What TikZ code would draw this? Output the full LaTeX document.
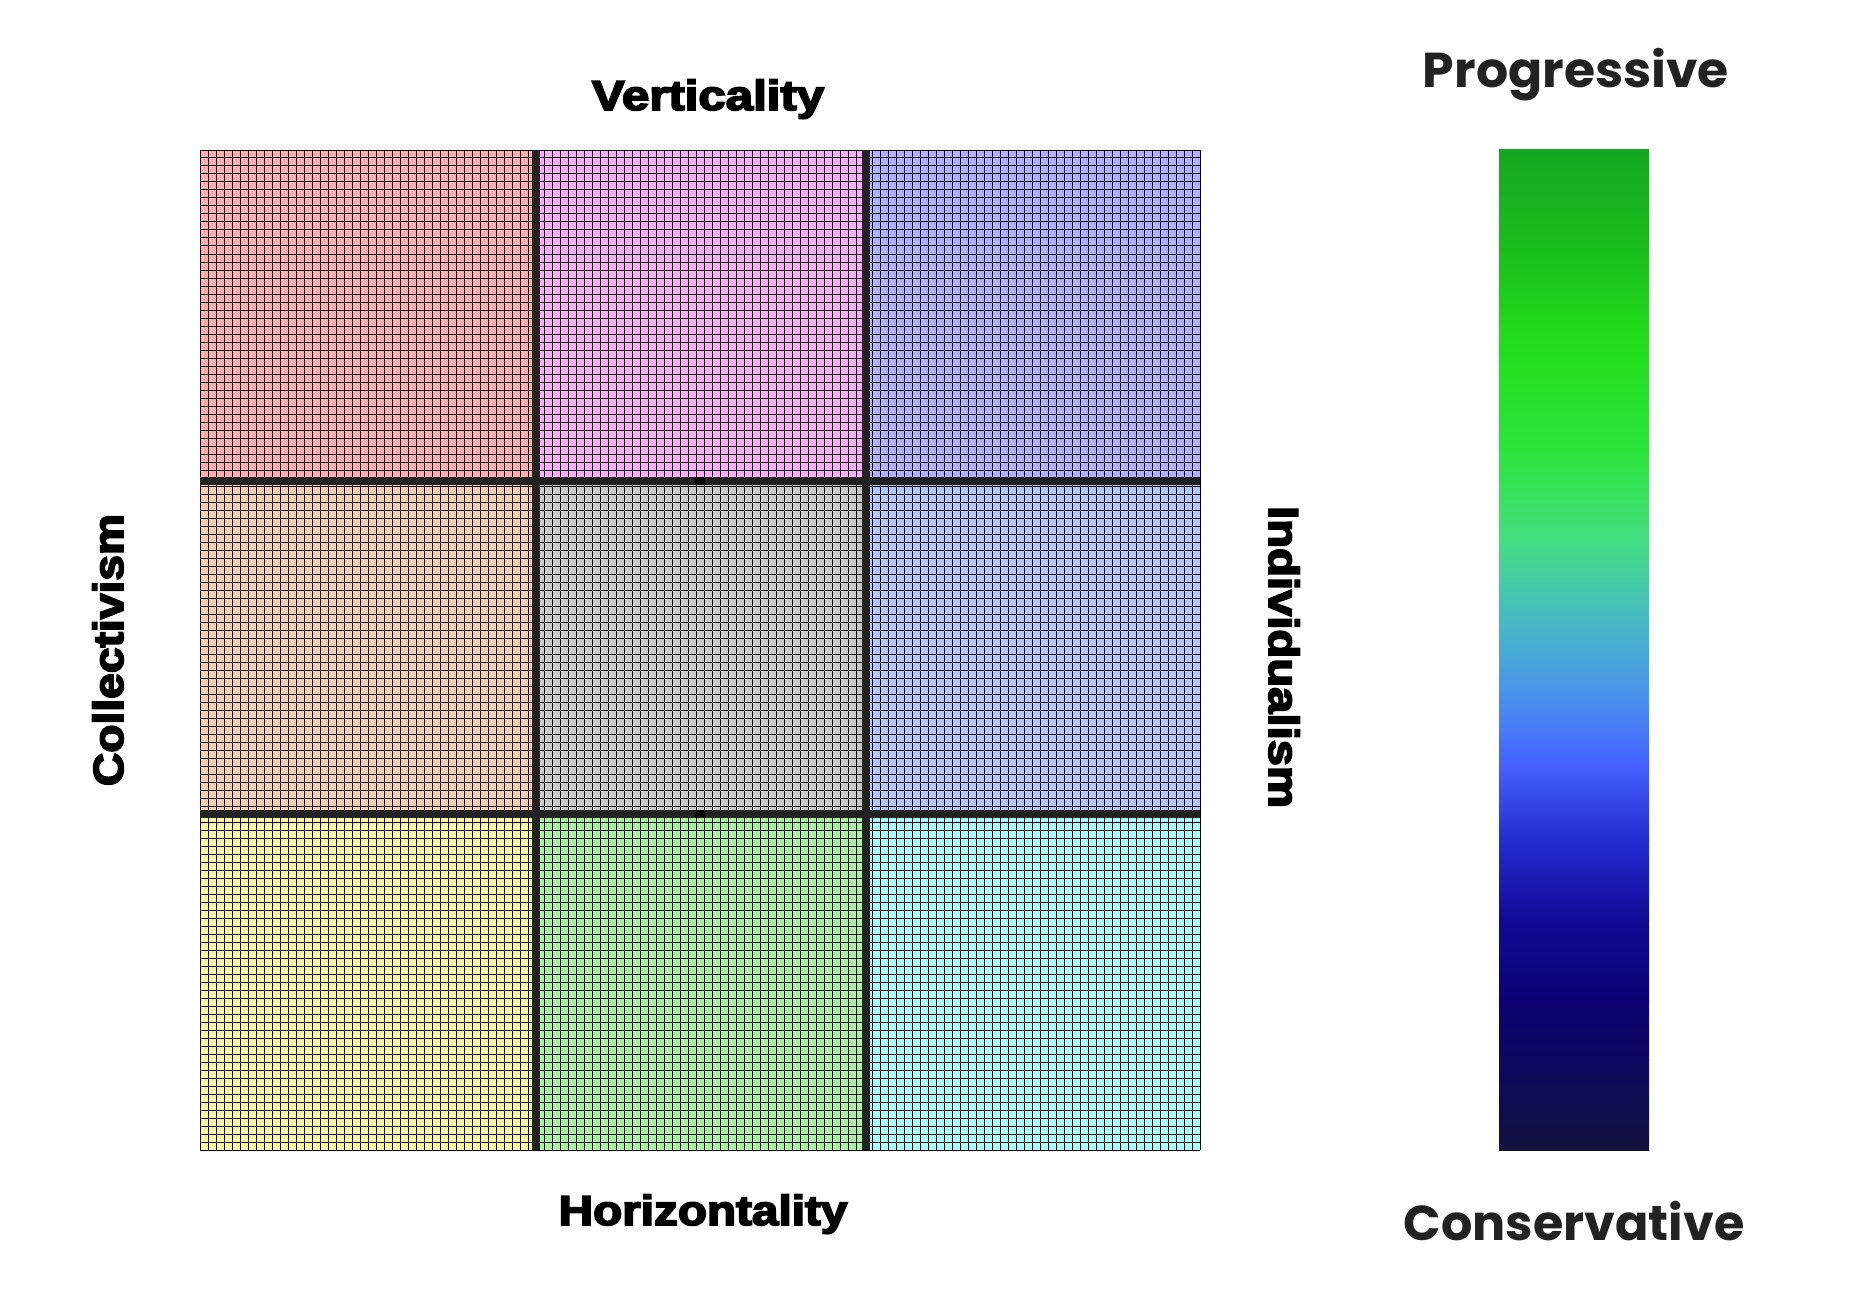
\documentclass[tikz,border=0pt]{standalone}
\usepackage{fontspec}
\newfontfamily\heavy{Liberation Sans}[BoldFeatures={FakeBold=4}]
\newfontfamily\pop{Poppins}
\definecolor{cTL}{HTML}{FFAEAE}
\definecolor{cTM}{HTML}{FFAEFF}
\definecolor{cTR}{HTML}{B0B0FF}
\definecolor{cML}{HTML}{FFCDAF}
\definecolor{cMM}{HTML}{CBCBCB}
\definecolor{cMR}{HTML}{B0C6FF}
\definecolor{cBL}{HTML}{FFFAA0}
\definecolor{cBM}{HTML}{A8F4A0}
\definecolor{cBR}{HTML}{AAFFFF}
\definecolor{sep}{HTML}{222222}
\definecolor{txt}{HTML}{222222}
\definecolor{g1}{RGB}{22,168,32}
\definecolor{g2}{RGB}{26,190,28}
\definecolor{g3}{RGB}{34,221,26}
\definecolor{g4}{RGB}{45,228,60}
\definecolor{g5}{RGB}{68,222,130}
\definecolor{g6}{RGB}{70,190,190}
\definecolor{g7}{RGB}{74,150,235}
\definecolor{g8}{RGB}{70,100,255}
\definecolor{g9}{RGB}{36,44,210}
\definecolor{g10}{RGB}{16,10,150}
\definecolor{g11}{RGB}{12,2,115}
\definecolor{g12}{RGB}{14,8,95}
\definecolor{g13}{RGB}{16,18,62}
\tikzset{
  axislabel/.style={font=\heavy\bfseries\fontsize{42}{42}\selectfont, text=black, inner sep=0pt, anchor=base},
  scalelabel/.style={font=\pop\bfseries\fontsize{49}{49}\selectfont, text=txt, inner sep=0pt, anchor=base},
  sepline/.style={fill=sep, draw=none}
}
\begin{document}
\begin{tikzpicture}[x=1pt,y=1pt]
\useasboundingbox (0,0) rectangle (1850,-1300);
\fill[white] (0,0) rectangle (1850,-1300);
% cells
\fill[cTL] (200,-150) rectangle (536,-481);
\fill[cTM] (536,-150) rectangle (866,-481);
\fill[cTR] (866,-150) rectangle (1200,-481);
\fill[cML] (200,-481) rectangle (536,-814);
\fill[cMM] (536,-481) rectangle (866,-814);
\fill[cMR] (866,-481) rectangle (1200,-814);
\fill[cBL] (200,-814) rectangle (536,-1150);
\fill[cBM] (536,-814) rectangle (866,-1150);
\fill[cBR] (866,-814) rectangle (1200,-1150);
% fine grid
\begin{scope}[shift={(200,-1150)}]
\draw[black, line width=1pt, step=8] (0,0) grid (1000,1000);
\end{scope}
% separators
\fill[sepline] (532,-150) rectangle (540,-1150);
\fill[sepline] (862,-150) rectangle (870,-1150);
\fill[sepline] (200,-477) rectangle (1200,-485);
\fill[sepline] (200,-810) rectangle (1200,-818);
\fill[black] (695,-477) rectangle (705,-485);
\fill[black] (695,-810) rectangle (705,-818);
% axis labels
\node[axislabel] (vert) at (708,-110) {\scalebox{1.17}[1]{Verticality}};
\node[axislabel] (horiz) at (703,-1225) {\scalebox{1.135}[1]{Horizontality}};
\node[axislabel, rotate=90] (coll) at (123,-650) {\scalebox{1.10}[1]{Collectivism}};
\node[axislabel, rotate=-90] (indiv) at (1269,-657) {\scalebox{1.125}[1]{Individualism}};
% gradient bar
\shade[top color=g1,bottom color=g2] (1499,-150) rectangle (1649,-250.5);
\shade[top color=g2,bottom color=g3] (1499,-250) rectangle (1649,-340.5);
\shade[top color=g3,bottom color=g4] (1499,-340) rectangle (1649,-450.5);
\shade[top color=g4,bottom color=g5] (1499,-450) rectangle (1649,-540.5);
\shade[top color=g5,bottom color=g6] (1499,-540) rectangle (1649,-610.5);
\shade[top color=g6,bottom color=g7] (1499,-610) rectangle (1649,-690.5);
\shade[top color=g7,bottom color=g8] (1499,-690) rectangle (1649,-760.5);
\shade[top color=g8,bottom color=g9] (1499,-760) rectangle (1649,-840.5);
\shade[top color=g9,bottom color=g10] (1499,-840) rectangle (1649,-920.5);
\shade[top color=g10,bottom color=g11] (1499,-920) rectangle (1649,-1000.5);
\shade[top color=g11,bottom color=g12] (1499,-1000) rectangle (1649,-1060.5);
\shade[top color=g12,bottom color=g13] (1499,-1060) rectangle (1649,-1150);
\node[scalelabel] (prog) at (1576,-88) {\scalebox{1.03}[1]{Progressive}};
\node[scalelabel] (cons) at (1574,-1240) {\scalebox{1.005}[1]{Conservative}};
\end{tikzpicture}
\end{document}
